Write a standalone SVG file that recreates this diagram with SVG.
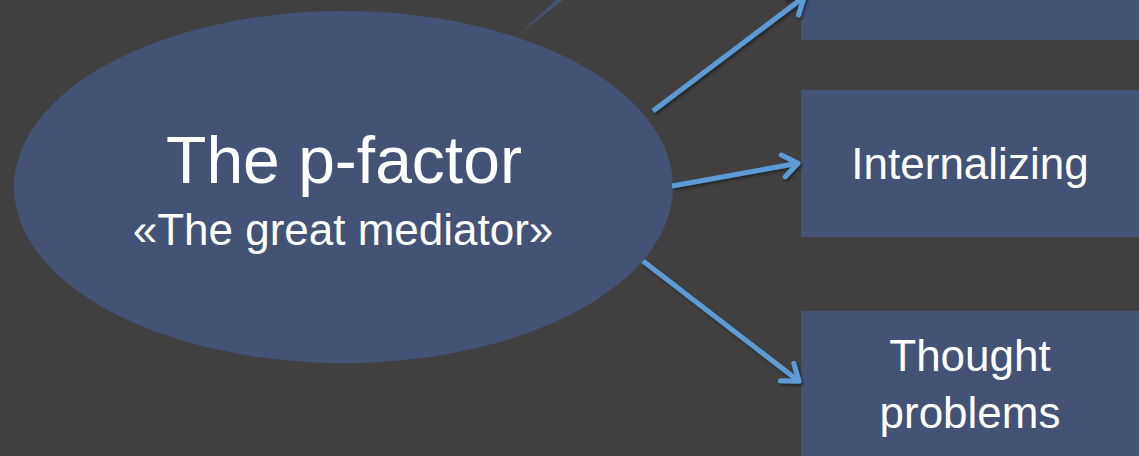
<svg xmlns="http://www.w3.org/2000/svg" width="1139" height="456" viewBox="0 0 1139 456">
  <style>
    .node { fill: #435275; }
    .label { fill: #FFFFFF; font-family: "Liberation Sans", Arial, sans-serif; text-anchor: middle; }
    .conn { stroke: #5B9BD5; stroke-width: 5; fill: none; stroke-linecap: butt; }
  </style>
  <defs>
    <filter id="shadow" x="-20%" y="-20%" width="140%" height="140%">
      <feDropShadow dx="1.5" dy="2" stdDeviation="1.5" flood-color="#000000" flood-opacity="0.45"/>
    </filter>
    <marker id="arrow" markerUnits="userSpaceOnUse" viewBox="-22 -16 26 32" markerWidth="26" markerHeight="32" refX="0" refY="0" orient="auto">
      <path d="M-15,-11 L0,0 L-15,11" fill="none" stroke="#5B9BD5" stroke-width="5" stroke-linecap="round" stroke-linejoin="round"/>
    </marker>
  </defs>
  <rect x="0" y="0" width="1139" height="456" fill="#404040"/>

  <g id="sliver">
    <polygon class="node" points="556,0 563,0 517,36"/>
  </g>

  <g id="p-factor">
    <ellipse class="node" cx="343.5" cy="187" rx="329.5" ry="176"/>
    <text class="label" x="344" y="183" font-size="66">The p-factor</text>
    <text class="label" x="343" y="245" font-size="44">«The great mediator»</text>
  </g>

  <g id="top-box">
    <rect class="node" x="801" y="0" width="338" height="40"/>
  </g>

  <g id="internalizing">
    <rect class="node" x="801" y="90" width="338" height="147"/>
    <text class="label" x="970" y="179" font-size="44">Internalizing</text>
  </g>

  <g id="thought-problems">
    <rect class="node" x="801" y="311" width="338" height="145"/>
    <text class="label" x="970" y="371" font-size="44">Thought</text>
    <text class="label" x="970" y="428" font-size="44">problems</text>
  </g>

  <g id="connectors" filter="url(#shadow)">
    <line class="conn" x1="653" y1="111" x2="804" y2="-3" marker-end="url(#arrow)"/>
    <line class="conn" x1="672" y1="186" x2="798" y2="163.2" marker-end="url(#arrow)"/>
    <line class="conn" x1="643" y1="261" x2="799" y2="381.2" marker-end="url(#arrow)"/>
  </g>
</svg>
